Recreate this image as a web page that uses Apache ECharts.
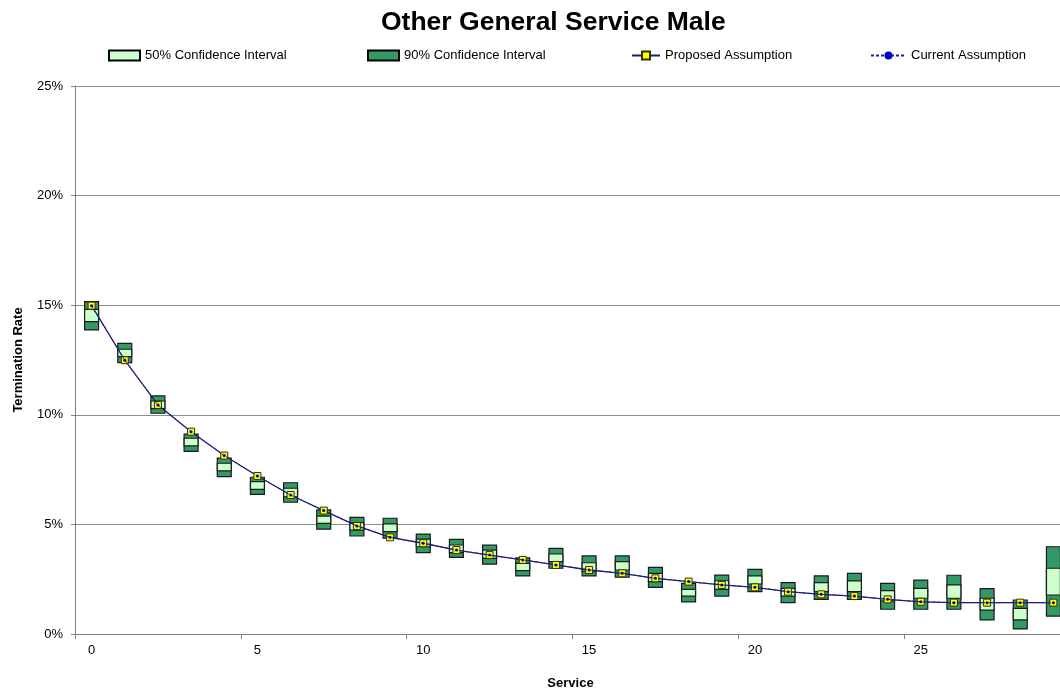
<!DOCTYPE html>
<html>
<head>
<meta charset="utf-8">
<title>Other General Service Male</title>
<script src="https://cdn.jsdelivr.net/npm/echarts@6/dist/echarts.min.js"></script>
<style>
  html, body { margin: 0; padding: 0; background: #fff; overflow: hidden; }
  #main { width: 1060px; height: 691px; }
</style>
</head>
<body>
<div id="main"></div>
<script>
// service years (categories)
var services = ['0','1','2','3','4','5','6','7','8','9','10','11','12','13','14','15','16','17','18','19','20','21','22','23','24','25','26','27','28','29']
var yTicks = [0, 5, 10, 15, 20, 25]

// termination rate, in percent
var p95 = [15.16, 13.26, 10.86, 9.12, 8.02, 7.15, 6.90, 5.66, 5.32, 5.28, 4.56, 4.32, 4.05, 3.47, 3.91, 3.56, 3.56, 3.04, 2.31, 2.69, 2.95, 2.34, 2.65, 2.77, 2.31, 2.46, 2.68, 2.07, 1.55, 3.98]
var p75 = [14.81, 12.99, 10.63, 8.93, 7.79, 6.95, 6.65, 5.38, 5.08, 5.02, 4.33, 4.06, 3.83, 3.22, 3.65, 3.25, 3.30, 2.77, 2.04, 2.43, 2.65, 2.08, 2.34, 2.42, 1.98, 2.08, 2.24, 1.63, 1.17, 3.00]
var p25 = [14.25, 12.65, 10.28, 8.58, 7.44, 6.60, 6.26, 5.05, 4.74, 4.67, 3.98, 3.71, 3.45, 2.89, 3.30, 2.87, 2.92, 2.39, 1.73, 2.04, 2.28, 1.73, 1.93, 1.93, 1.51, 1.63, 1.63, 1.09, 0.64, 1.78]
var p5 = [13.87, 12.38, 10.07, 8.33, 7.18, 6.37, 6.01, 4.78, 4.47, 4.37, 3.71, 3.50, 3.19, 2.65, 3.00, 2.65, 2.59, 2.13, 1.47, 1.73, 1.93, 1.43, 1.58, 1.58, 1.13, 1.13, 1.13, 0.64, 0.23, 0.82]
var proposed = [14.98, 12.49, 10.45, 9.23, 8.14, 7.21, 6.34, 5.63, 4.93, 4.41, 4.14, 3.83, 3.60, 3.38, 3.15, 2.92, 2.77, 2.54, 2.39, 2.24, 2.13, 1.93, 1.81, 1.73, 1.58, 1.47, 1.43, 1.43, 1.43, 1.43]
var current = [14.98, 12.49, 10.45, 9.23, 8.14, 7.21, 6.34, 5.63, 4.93, 4.41, 4.14, 3.83, 3.60, 3.38, 3.15, 2.92, 2.77, 2.54, 2.39, 2.24, 2.13, 1.93, 1.81, 1.73, 1.58, 1.47, 1.43, 1.43, 1.43, 1.43]

var FONT = '"Liberation Sans", Arial, sans-serif'
var DARK = '#339966'
var LIGHT = '#ccffcc'

// draws one interval box per category from [idx, low, high]
function boxRenderer(fill) {
  return function (params, api) {
    var lo = api.coord([api.value(0), api.value(1)])
    var hi = api.coord([api.value(0), api.value(2)])
    var w = api.size([1, 0])[0] * 0.42
    return {
      type: 'rect',
      shape: { x: lo[0] - w / 2, y: hi[1], width: w, height: lo[1] - hi[1] },
      style: { fill: fill, stroke: '#1a1a1a', lineWidth: 1.2 }
    }
  }
}

var chart = echarts.init(document.getElementById('main'))

var legendText = { fontFamily: FONT, fontSize: 13, color: '#000' }
var option = {
  animation: false,
  title: {
    text: 'Other General Service Male',
    left: 376,
    top: 4,
    textStyle: { fontFamily: FONT, fontSize: 26.5, fontWeight: 'bold', color: '#000' }
  },
  legend: [
    { data: [{ name: '50% Confidence Interval', icon: 'rect' }], left: 108, top: 49, padding: 0, itemWidth: 31, itemHeight: 10, textStyle: legendText },
    { data: [{ name: '90% Confidence Interval', icon: 'rect' }], left: 367, top: 49, padding: 0, itemWidth: 31, itemHeight: 10, textStyle: legendText },
    { data: ['Proposed Assumption'], left: 631, top: 49, padding: 0, itemWidth: 28, itemHeight: 10, textStyle: legendText },
    { data: ['Current Assumption'], left: 870, top: 49, padding: 0, itemWidth: 35, itemHeight: 10, textStyle: legendText, itemStyle: { borderWidth: 0 } }
  ],
  grid: { left: 75, width: 995, top: 86, bottom: 57, outerBoundsMode: 'none' },
  xAxis: {
    type: 'category',
    data: services,
    boundaryGap: true,
    name: 'Service',
    nameLocation: 'middle',
    nameGap: 43,
    nameTextStyle: { fontFamily: FONT, fontSize: 13, fontWeight: 'bold', color: '#000', padding: [0, 0, 0, -4] },
    axisLine: { lineStyle: { color: '#808080', width: 1 } },
    axisTick: { show: true, interval: 4, length: 5, lineStyle: { color: '#808080' } },
    axisLabel: {
      interval: 4,
      margin: 10,
      fontFamily: FONT, fontSize: 13, color: '#000'
    },
    splitLine: { show: false }
  },
  yAxis: {
    type: 'value',
    min: 0,
    max: 25,
    interval: 5,
    name: 'Termination Rate',
    nameLocation: 'middle',
    nameGap: 50,
    nameRotate: 90,
    nameTextStyle: { fontFamily: FONT, fontSize: 13, fontWeight: 'bold', color: '#000' },
    axisLine: { show: true, lineStyle: { color: '#808080', width: 1 } },
    axisTick: { show: true, length: 4, lineStyle: { color: '#808080' } },
    axisLabel: {
      margin: 12,
      fontFamily: FONT, fontSize: 13, color: '#000',
      formatter: function (v) { return yTicks.indexOf(v) >= 0 ? v + '%' : '' }
    },
    splitLine: { show: true, lineStyle: { color: '#8c8c8c', width: 1 } }
  },
  series: [
    {
      name: '90% Confidence Interval',
      type: 'custom',
      z: 3,
      itemStyle: { color: DARK, borderColor: '#000', borderWidth: 1 },
      renderItem: boxRenderer(DARK),
      encode: { x: 0, y: [1, 2] },
      data: services.map(function (s, i) { return [i, p5[i], p95[i]] })
    },
    {
      name: '50% Confidence Interval',
      type: 'custom',
      z: 4,
      itemStyle: { color: LIGHT, borderColor: '#000', borderWidth: 1 },
      renderItem: boxRenderer(LIGHT),
      encode: { x: 0, y: [1, 2] },
      data: services.map(function (s, i) { return [i, p25[i], p75[i]] })
    },
    {
      name: 'Proposed Assumption',
      type: 'line',
      z: 5,
      data: proposed,
      symbol: 'rect',
      symbolSize: 7,
      lineStyle: { color: '#1c1c60', width: 1.3 },
      itemStyle: { color: '#ffff00', borderColor: '#333300', borderWidth: 1 }
    },
    {
      name: 'Current Assumption',
      type: 'line',
      z: 6,
      data: current,
      symbol: 'circle',
      symbolSize: 3,
      lineStyle: { color: '#2020a0', width: 1, type: [3, 2] },
      itemStyle: { color: '#0000cc', borderColor: '#0000cc', borderWidth: 0 }
    }
  ]
}

chart.setOption(option)
</script>
</body>
</html>
